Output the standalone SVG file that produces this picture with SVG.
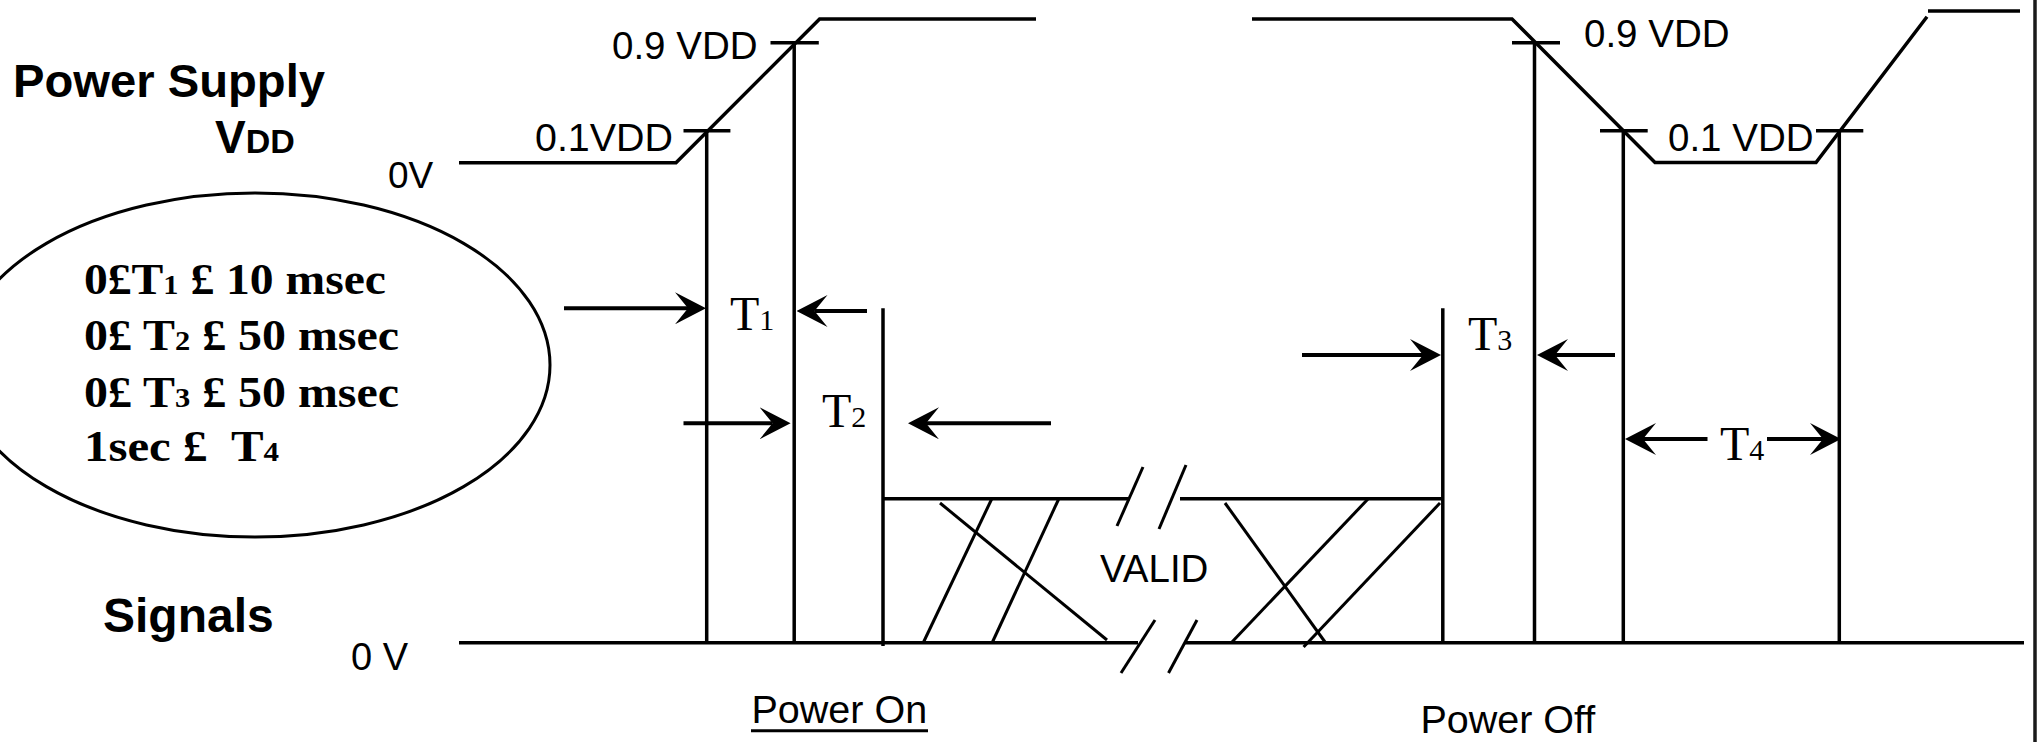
<svg xmlns="http://www.w3.org/2000/svg" width="2041" height="742" viewBox="0 0 2041 742">
<defs>
<style>
.ln{stroke:#000;stroke-width:3.5;fill:none;stroke-linecap:butt}
.th{stroke:#000;stroke-width:3;fill:none}
.ar{stroke:#000;stroke-width:4;fill:none;marker-end:url(#ah)}
.sans{font-family:"Liberation Sans",Arial,sans-serif;fill:#000}
.bold{font-weight:bold}
.serif{font-family:"Liberation Serif","Times New Roman",serif;fill:#000}
</style>
<marker id="ah" markerUnits="userSpaceOnUse" viewBox="0 0 31 32" refX="13" refY="16" markerWidth="31" markerHeight="32" orient="auto">
<path d="M0,0 L31,16 L0,32 L13,16 Z" fill="#000"/>
</marker>
</defs>
<rect width="2041" height="742" fill="#fff"/>

<g id="labels-left">
<text class="sans bold" x="13" y="97" font-size="47" textLength="312" lengthAdjust="spacingAndGlyphs">Power Supply</text>
<text class="sans bold" x="215" y="153" font-size="46">V<tspan font-size="34">DD</tspan></text>
<text class="sans" x="388" y="188" font-size="37">0V</text>
<text class="sans bold" x="103" y="632" font-size="48">Signals</text>
<text class="sans" x="351" y="670" font-size="38">0 V</text>
</g>

<g id="condition-ellipse">
<ellipse cx="255" cy="365" rx="295" ry="172" class="th"/>
<text class="serif bold" x="84" y="294" font-size="44" textLength="302" lengthAdjust="spacingAndGlyphs" xml:space="preserve">0£T<tspan font-size="28">1</tspan> £ 10 msec</text>
<text class="serif bold" x="84" y="350" font-size="44" textLength="315" lengthAdjust="spacingAndGlyphs" xml:space="preserve">0£ T<tspan font-size="28">2</tspan> £ 50 msec</text>
<text class="serif bold" x="84" y="407" font-size="44" textLength="315" lengthAdjust="spacingAndGlyphs" xml:space="preserve">0£ T<tspan font-size="28">3</tspan> £ 50 msec</text>
<text class="serif bold" x="84" y="461" font-size="44" textLength="195" lengthAdjust="spacingAndGlyphs" xml:space="preserve">1sec £  T<tspan font-size="28">4</tspan></text>
</g>

<g id="power-supply-waveform">
<polyline class="ln" points="459,162.7 676,162.7 819.6,19 1036,19"/>
<polyline class="ln" points="1252,19 1512,19 1655,162.5 1816,162.5 1927,16.7"/>
<line class="ln" x1="1928" y1="11" x2="2020" y2="11"/>
<line class="ln" x1="683.5" y1="130.7" x2="730.4" y2="130.7"/>
<line class="ln" x1="770.5" y1="42.7" x2="818.8" y2="42.7"/>
<line class="ln" x1="1512" y1="42.7" x2="1560" y2="42.7"/>
<line class="ln" x1="1600" y1="130.7" x2="1647.7" y2="130.7"/>
<line class="ln" x1="1816" y1="130.7" x2="1863.3" y2="130.7"/>
<text class="sans" x="612" y="59" font-size="38.5">0.9 VDD</text>
<text class="sans" x="535" y="150.7" font-size="38.5" textLength="138" lengthAdjust="spacingAndGlyphs">0.1VDD</text>
<text class="sans" x="1584" y="47" font-size="38.5">0.9 VDD</text>
<text class="sans" x="1668" y="150.7" font-size="38.5">0.1 VDD</text>
</g>

<g id="timing-markers">
<line class="ln" x1="706.7" y1="130.7" x2="706.7" y2="642.7"/>
<line class="ln" x1="794.2" y1="42.7" x2="794.2" y2="642.7"/>
<line class="ln" x1="1534.5" y1="42.7" x2="1534.5" y2="642.7"/>
<line class="ln" x1="1623.3" y1="130.7" x2="1623.3" y2="642.7"/>
<line class="ln" x1="1839.3" y1="130.7" x2="1839.3" y2="642.7"/>
</g>

<g id="signal-waveform">
<line class="ln" x1="883" y1="308.3" x2="883" y2="646"/>
<line class="ln" x1="1442.8" y1="308.3" x2="1442.8" y2="642.7"/>
<line class="ln" x1="459" y1="642.7" x2="1138" y2="642.7"/>
<line class="ln" x1="1184" y1="642.7" x2="2024" y2="642.7"/>
<line class="ln" x1="883" y1="498.7" x2="1130" y2="498.7"/>
<line class="ln" x1="1180" y1="498.7" x2="1442.8" y2="498.7"/>
<line class="th" x1="1143" y1="467" x2="1117" y2="526"/>
<line class="th" x1="1186" y1="465" x2="1159" y2="529"/>
<line class="th" x1="1155" y1="620" x2="1121" y2="673"/>
<line class="th" x1="1197" y1="620" x2="1168.5" y2="673"/>
<line class="th" x1="940" y1="503" x2="1107" y2="640"/>
<line class="th" x1="991.7" y1="499" x2="923.6" y2="642"/>
<line class="th" x1="1058.7" y1="499" x2="992.5" y2="642"/>
<line class="th" x1="1225" y1="503" x2="1325" y2="642"/>
<line class="th" x1="1368" y1="499" x2="1232" y2="642"/>
<line class="th" x1="1440" y1="503" x2="1303.6" y2="647"/>
<text class="sans" x="1100" y="581.7" font-size="38.5">VALID</text>
</g>

<g id="connectors">
<line class="ar" x1="564" y1="308.3" x2="688" y2="308.3"/>
<line class="ar" x1="867" y1="311" x2="814.5" y2="311"/>
<line class="ar" x1="683.5" y1="423.3" x2="772.6" y2="423.3"/>
<line class="ar" x1="1051" y1="423.3" x2="926" y2="423.3"/>
<line class="ar" x1="1302" y1="355" x2="1423" y2="355"/>
<line class="ar" x1="1615" y1="355" x2="1555" y2="355"/>
<line class="ar" x1="1707.5" y1="439" x2="1643" y2="439"/>
<line class="ar" x1="1767" y1="439" x2="1823" y2="439"/>
</g>

<g id="interval-labels">
<text class="serif" x="730" y="330" font-size="48">T<tspan font-size="30">1</tspan></text>
<text class="serif" x="822" y="427" font-size="48">T<tspan font-size="30">2</tspan></text>
<text class="serif" x="1468" y="350" font-size="48">T<tspan font-size="30">3</tspan></text>
<text class="serif" x="1720" y="460" font-size="48">T<tspan font-size="30">4</tspan></text>
</g>

<g id="phase-labels">
<text class="sans" x="751.5" y="723.3" font-size="39.5">Power On</text>
<line class="th" x1="751" y1="730.7" x2="928" y2="730.7"/>
<text class="sans" x="1420.4" y="733.3" font-size="39.5">Power Off</text>
</g>

<line id="border-right" x1="2035" y1="0" x2="2035" y2="742" stroke="#1a1a1a" stroke-width="3.5"/>
</svg>
